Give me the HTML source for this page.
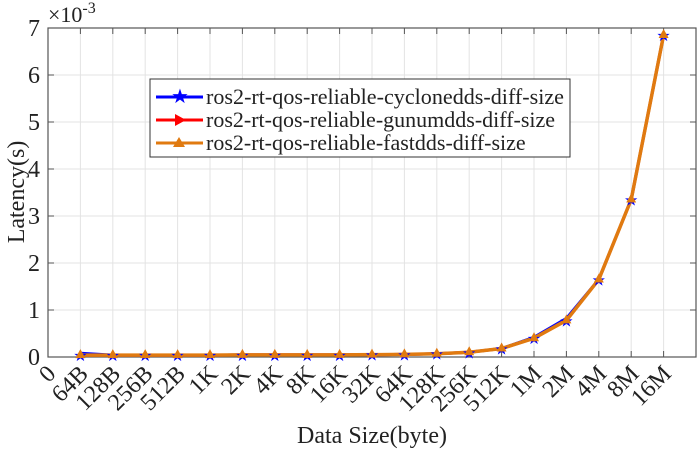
<!DOCTYPE html><html><head><style>body{margin:0;background:#fff}svg{display:block}text{font-family:"Liberation Serif",serif;fill:#222}</style></head><body>
<svg width="700" height="450" xmlns="http://www.w3.org/2000/svg">
<g id="grid" stroke="#e3e3e3" stroke-width="1"></g>
<rect x="48" y="28" width="648" height="329" fill="none" stroke="#555" stroke-width="1.2"/>
<g id="ticks" stroke="#555" stroke-width="1"></g>
<g id="ylab" font-size="24"></g>
<g id="labels" font-size="24"></g>
<text x="48" y="22" font-size="22">×10<tspan dy="-9" font-size="16">-3</tspan></text>
<text transform="translate(24,192) rotate(-90)" text-anchor="middle" font-size="24">Latency(s)</text>
<text x="372" y="443" text-anchor="middle" font-size="24">Data Size(byte)</text>
<g id="series"></g>
<rect x="150" y="79" width="420" height="78" fill="#fff" stroke="#333" stroke-width="1"/>
<line x1="156" y1="97" x2="203" y2="97" stroke="#0000ff" stroke-width="3"/><text x="180" y="103" font-size="20" text-anchor="middle" style="fill:#0000ff">★</text>
<line x1="156" y1="120" x2="203" y2="120" stroke="#ff0000" stroke-width="3"/><polygon points="175,114 186,120 175,126" fill="#ff0000"/>
<line x1="156" y1="143" x2="203" y2="143" stroke="#e07a10" stroke-width="3"/><polygon points="179,137 185,147 173,147" fill="#e07a10"/>
<text x="206" y="104" font-size="22" textLength="358" lengthAdjust="spacingAndGlyphs">ros2-rt-qos-reliable-cyclonedds-diff-size</text>
<text x="206" y="127" font-size="22">ros2-rt-qos-reliable-gunumdds-diff-size</text>
<text x="206" y="150" font-size="22">ros2-rt-qos-reliable-fastdds-diff-size</text>
</svg>
<script>
const ns="http://www.w3.org/2000/svg";
function el(p,t,a,txt){const e=document.createElementNS(ns,t);for(const k in a)e.setAttribute(k,a[k]);if(txt!=null)e.textContent=txt;document.getElementById(p).appendChild(e);return e;}
const X=i=>48+32.4*i, Y=v=>357-47*v;
for(let i=1;i<20;i++){el("grid","line",{x1:X(i),y1:28,x2:X(i),y2:357});el("ticks","line",{x1:X(i),y1:28,x2:X(i),y2:34});el("ticks","line",{x1:X(i),y1:357,x2:X(i),y2:351});}
for(let v=1;v<7;v++){el("grid","line",{x1:48,y1:Y(v),x2:696,y2:Y(v)});el("ticks","line",{x1:48,y1:Y(v),x2:54,y2:Y(v)});el("ticks","line",{x1:696,y1:Y(v),x2:690,y2:Y(v)});}
for(let v=0;v<=7;v++)el("ylab","text",{x:40,y:Y(v)+8,"text-anchor":"end"},String(v));
const L=["0","64B","128B","256B","512B","1K","2K","4K","8K","16K","32K","64K","128K","256K","512K","1M","2M","4M","8M","16M"];
L.forEach((s,i)=>el("labels","text",{x:X(i)+9,y:375,"text-anchor":"end",transform:`rotate(-45 ${X(i)+9} 375)`},s));
const base=[0.04,0.04,0.04,0.04,0.04,0.045,0.045,0.045,0.045,0.05,0.055,0.07,0.1,0.18,0.4,0.78,1.65,3.35,6.85];
const blue=base.slice();blue[0]=0.08;blue[15]=0.82;blue[14]=0.42;
function series(d,c,w){el("series","polyline",{points:d.map((v,i)=>X(i+1)+","+Y(v)).join(" "),fill:"none",stroke:c,"stroke-width":w});}
series(blue,"#0000ff",3);series(base,"#ff0000",3);series(base,"#e07a10",3.5);
base.forEach((v,i)=>{el("series","text",{x:X(i+1),y:Y(v)+6,"text-anchor":"middle","font-size":"16",style:"fill:#0000ff"},"★");el("series","polygon",{points:`${X(i+1)},${Y(v)-6} ${X(i+1)+5},${Y(v)+3} ${X(i+1)-5},${Y(v)+3}`,fill:"#e07a10"});});
</script>
</body></html>
